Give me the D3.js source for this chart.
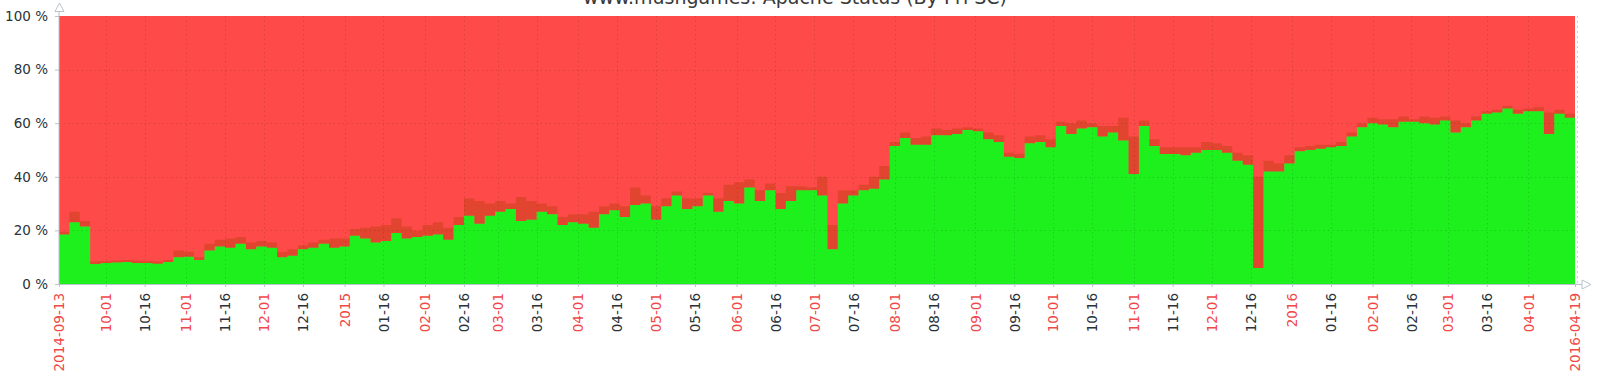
<!DOCTYPE html>
<html>
<head>
<meta charset="utf-8">
<script src="https://cdn.jsdelivr.net/npm/d3@7"></script>
<style>
  body { margin: 0; background: #fff; }
  svg { display: block; font-family: "DejaVu Sans", sans-serif; }
</style>
</head>
<body>
<div id="chart"></div>
<script>
// sampled every 4 days from the first date
const startDate = "2014-09-13";
const endDate = "2016-04-19";
const stepDays = 4;

// green series (% of total)
const greenPct = [
  18.5, 23, 21.5, 7.5, 7.8, 8, 8.2, 7.8, 7.8, 7.6,
  8.2, 10, 10.2, 9, 12.5, 14, 13.5, 15, 13, 14,
  13.5, 10, 10.5, 13, 13.5, 15, 13.5, 14, 18, 17,
  15.5, 16, 19, 17, 17.5, 18, 18.5, 16.5, 22, 25.5,
  22.5, 25.5, 27, 28, 23.5, 24, 27, 26, 22, 23,
  22.5, 21, 26, 27.5, 25, 29.5, 30, 24, 29, 33,
  28, 29, 33, 27, 31, 30, 36, 31, 35, 28,
  31, 35, 35, 33, 13, 30, 33, 35, 35.5, 39,
  51.5, 54.5, 52, 52, 55.5, 55.5, 56, 57.5, 57, 54,
  53, 47.5, 47, 52.5, 53, 51, 59, 56, 58, 58.5,
  55, 56.5, 53.5, 41, 59, 51.5, 48.5, 48.5, 48, 49,
  50, 50, 49, 46, 44.5, 6, 42, 42, 45, 49.5,
  50, 50.5, 51, 51.5, 55, 58.5, 60, 59.5, 58.5, 60.5,
  60.5, 60, 59.5, 61, 56.5, 58.5, 61, 63.5, 64, 65.5,
  63.5, 64.5, 64.5, 56, 63.5, 62, 62.5
];

// upper edge of the min/max band above the green series
const maxPct = [
  19.5, 27, 23.5, 8.5, 8.5, 8.8, 9, 8.8, 8.6, 8.4,
  9, 12.5, 12, 10, 15, 16.5, 17, 17.5, 15.5, 16,
  15.5, 12, 13, 14.5, 15.5, 16.5, 17, 17, 20.5, 21,
  21.5, 22, 24.5, 21.5, 20, 22, 23, 21, 25, 32,
  31, 30, 31, 30, 32.5, 31, 30, 29, 25, 26,
  26, 27, 29, 30, 29, 36, 33, 29, 32, 34.5,
  32, 32, 34, 32, 37, 38, 39, 35, 37.5, 34,
  36.5, 36.5, 36, 40, 22, 35, 35, 37, 40, 44,
  53, 56.5, 54.5, 55, 58, 57.5, 58, 58.5, 58, 56.5,
  55.5, 49, 48.5, 55, 55.5, 54, 60.5, 60, 61, 60,
  59, 59, 62, 55, 61, 54, 51, 51, 51, 51,
  53, 52.5, 51.5, 49, 48, 40, 46, 45, 48, 51,
  51.5, 52, 52, 53, 56.5, 60, 62, 61.5, 61.5, 62.5,
  61.5, 62.5, 62, 62.5, 61, 60, 62.5, 64.5, 65, 66.5,
  65, 65.5, 66, 64, 65, 63.5, 64
];

const yTicks = [0, 20, 40, 60, 80, 100];
const chartTitle = "www.mushgames: Apache Status (By Pri SC)";

const width = 1600, height = 387;
const margin = { top: 16, right: 25, bottom: 103, left: 59 };
const plotW = width - margin.left - margin.right;
const plotH = height - margin.top - margin.bottom;

const parse = d3.timeParse("%Y-%m-%d");
const t0 = parse(startDate), t1 = parse(endDate);
const data = greenPct.map((g, i) => ({
  date: d3.timeDay.offset(t0, i * stepDays),
  green: g,
  max: maxPct[i]
}));

const x = d3.scaleTime().domain([t0, t1]).range([margin.left, margin.left + plotW]);
const y = d3.scaleLinear().domain([0, 100]).range([margin.top + plotH, margin.top]);

const svg = d3.select("#chart").append("svg")
  .attr("width", width)
  .attr("height", height);

// title sits mostly above the top edge, as in the source image
svg.append("text")
  .attr("x", 795)
  .attr("y", 4)
  .attr("text-anchor", "middle")
  .attr("font-size", "19px")
  .attr("fill", "#3a3a3a")
  .text(chartTitle);

// red: remaining share up to 100 %
svg.append("rect")
  .attr("x", margin.left)
  .attr("y", margin.top)
  .attr("width", plotW)
  .attr("height", plotH)
  .attr("fill", "#ff4a4a");

const band = d3.area()
  .curve(d3.curveStepAfter)
  .x(d => x(d.date))
  .y0(d => y(d.green))
  .y1(d => y(d.max));

const greenArea = d3.area()
  .curve(d3.curveStepAfter)
  .x(d => x(d.date))
  .y0(y(0))
  .y1(d => y(d.green));

svg.append("path")
  .datum(data)
  .attr("fill", "#e2452f")
  .attr("d", band);

svg.append("path")
  .datum(data)
  .attr("fill", "#1ef01e")
  .attr("d", greenArea);

// x ticks: start, every 1st and 16th, end (skip those too close to the end)
const tickDates = [t0];
d3.timeMonth.range(d3.timeMonth.ceil(t0), t1).forEach(m => {
  tickDates.push(m);
  const mid = d3.timeDay.offset(m, 15);
  if (d3.timeDay.count(mid, t1) > 6) tickDates.push(mid);
});
tickDates.push(t1);

const fmtMD = d3.timeFormat("%m-%d");
const fmtFull = d3.timeFormat("%Y-%m-%d");
function tickLabel(d, i) {
  if (i === 0 || i === tickDates.length - 1) return fmtFull(d);
  if (d.getMonth() === 0 && d.getDate() === 1) return d.getFullYear();
  return fmtMD(d);
}
function tickColor(d, i) {
  if (i === 0 || i === tickDates.length - 1 || d.getDate() === 1) return "#f04848";
  return "#2a3238";
}

// dotted grid
const grid = svg.append("g");
grid.selectAll(".vgrid")
  .data(tickDates.slice(1, -1))
  .join("line")
  .attr("x1", d => Math.round(x(d)) + 0.5)
  .attr("x2", d => Math.round(x(d)) + 0.5)
  .attr("y1", margin.top)
  .attr("y2", margin.top + plotH)
  .attr("stroke", "rgba(0,0,0,0.13)")
  .attr("stroke-dasharray", "1.5,3");

grid.selectAll(".hgrid")
  .data(yTicks.slice(1, -1))
  .join("line")
  .attr("x1", margin.left)
  .attr("x2", margin.left + plotW)
  .attr("y1", d => Math.round(y(d)) + 0.5)
  .attr("y2", d => Math.round(y(d)) + 0.5)
  .attr("stroke", "rgba(0,0,0,0.13)")
  .attr("stroke-dasharray", "1.5,3");

const axisColor = "#b8c4ca";

// y axis
const yAxis = svg.append("g")
  .attr("transform", `translate(${margin.left},0)`)
  .call(d3.axisLeft(y).tickValues(yTicks).tickSize(4).tickFormat(d => d + " %"));
yAxis.select(".domain").attr("stroke", axisColor).attr("d", `M0,${margin.top + plotH}V6`);
yAxis.selectAll(".tick line").attr("stroke", axisColor);
yAxis.selectAll(".tick text")
  .attr("x", -11)
  .attr("font-size", "13.5px")
  .attr("font-family", "DejaVu Sans")
  .attr("fill", "#2a3238");

// x axis
const xAxis = svg.append("g")
  .attr("transform", `translate(0,${margin.top + plotH})`)
  .call(d3.axisBottom(x).tickValues(tickDates).tickSize(3).tickFormat(tickLabel));
xAxis.select(".domain").attr("stroke", axisColor).attr("d", `M${margin.left},0.5H1584`);
xAxis.selectAll(".tick line").attr("stroke", axisColor);
xAxis.selectAll(".tick text")
  .attr("transform", "rotate(-90)")
  .attr("x", -9)
  .attr("y", 0)
  .attr("dy", "0.35em")
  .attr("text-anchor", "end")
  .attr("font-size", "13.5px")
  .attr("font-family", "DejaVu Sans")
  .attr("fill", (d, i) => tickColor(d, i));

// right border
svg.append("line")
  .attr("x1", margin.left + plotW + 2.5)
  .attr("x2", margin.left + plotW + 2.5)
  .attr("y1", margin.top)
  .attr("y2", margin.top + plotH)
  .attr("stroke", "#c8cfd3")
  .attr("stroke-dasharray", "2,3");

// axis arrows
svg.append("path")
  .attr("d", `M${margin.left - 4},${11.5}L${margin.left + 0.5},${3}L${margin.left + 5},${11.5}Z`)
  .attr("fill", "#fff")
  .attr("stroke", axisColor);
const ay = margin.top + plotH + 0.5;
svg.append("path")
  .attr("d", `M1582,${ay - 4.5}L1591,${ay}L1582,${ay + 4.5}Z`)
  .attr("fill", "#fff")
  .attr("stroke", axisColor);
</script>
</body>
</html>
